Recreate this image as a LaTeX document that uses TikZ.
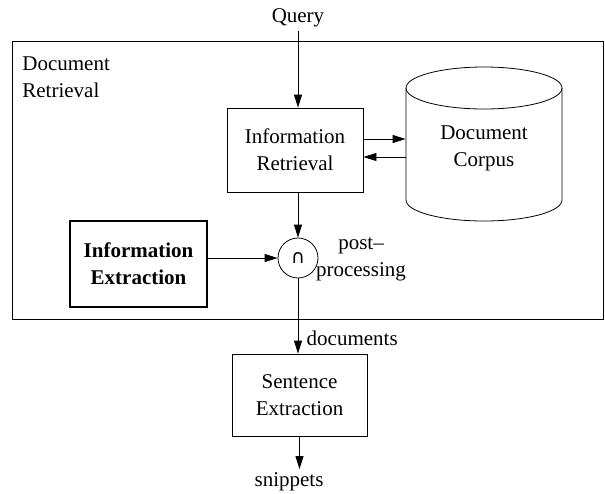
\documentclass[tikz,border=0pt]{standalone}
\usepackage{fontspec}
\setmainfont{Liberation Serif}
\newfontfamily\symfont{DejaVu Sans}
\usetikzlibrary{arrows.meta}

\tikzset{
  txt/.style={font=\fontsize{21}{27}\selectfont},
  box/.style={txt, draw, line width=0.8pt, align=center, inner sep=0pt},
}

\begin{document}
\begin{tikzpicture}[x=1pt, y=-1pt, line width=0.8pt,
    >={Triangle[length=13pt,width=8pt]}]
    \useasboundingbox (0,0) rectangle (605,493);
    % outer frame
    \node[box, minimum width=591pt, minimum height=278pt] (docret) at (307.5,180) {};
    \node[txt, align=left, anchor=north west, inner sep=0pt] (drlabel) at (22,56) {Document\\Retrieval};
    % boxes
    \node[txt] (query) at (298,18) {Query};
    \node[box, minimum width=136pt, minimum height=84pt] (ir) at (295,150) {Information\\Retrieval};
    \node[box, line width=1.6pt, font=\fontsize{21}{27}\selectfont\bfseries,
      minimum width=137pt, minimum height=86pt] (ie) at (138.5,264) {Information\\Extraction};
    \node[box, minimum width=135pt, minimum height=82pt] (se) at (299.5,395) {Sentence\\Extraction};
    \node[txt] (snip) at (289,482) {snippets};
    % corpus cylinder
    \draw (406,88) -- (406,200) arc[start angle=180, end angle=360, x radius=78pt, y radius=21pt] -- (562,88);
    \draw (484,88) ellipse[x radius=78pt, y radius=21pt];
    \node[txt, align=center, minimum width=156pt, inner sep=0pt] (corpus) at (484,148) {Document\\Corpus};
    % intersection
    \node[draw, circle, minimum size=40pt, inner sep=0pt, font=\fontsize{19}{19}\symfont] (circ) at (298,258) {∩};
    \node[txt, align=center, inner sep=0pt] (post) at (361,259) {post--\\processing};
    % arrows
    \draw[->] (query.south) -- (query.south |- ir.north);
    \draw[->] ([yshift=9pt]corpus.west -| ir.east) -- ([yshift=9pt]corpus.west);
    \draw[->] ([yshift=-9pt]corpus.west) -- ([yshift=-9pt]corpus.west -| ir.east);
    \draw[->] (ir.south -| circ.north) -- (circ.north);
    \draw[->] (ie.east |- circ.west) -- (circ.west);
    \draw[->] (circ.south) -- (circ.south |- se.north) node[txt, pos=0.8, right, xshift=5pt] {documents};
    \draw[->] (se.south) -- (se.south |- snip.north);
\end{tikzpicture}
\end{document}
